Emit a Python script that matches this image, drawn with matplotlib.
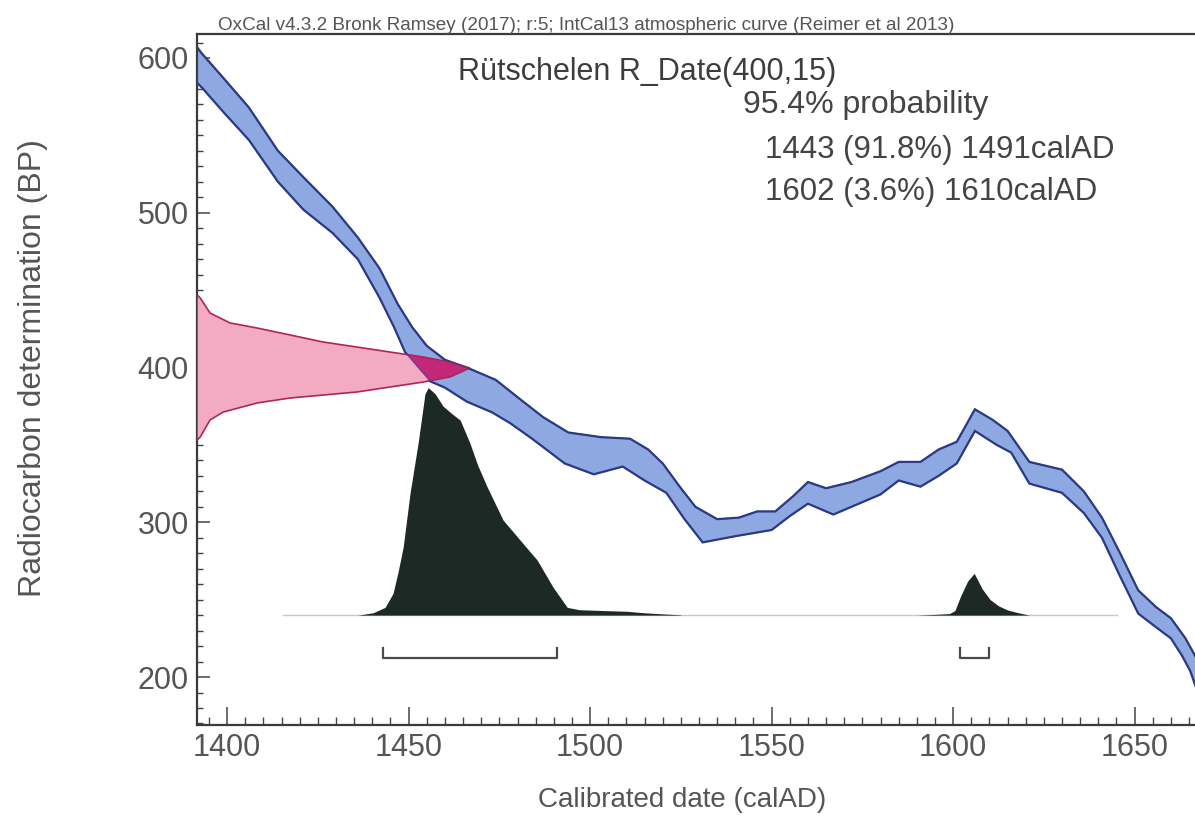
import numpy as np
import matplotlib
matplotlib.use('Agg')
import matplotlib.pyplot as plt
from matplotlib.patches import Polygon
from matplotlib.ticker import MultipleLocator

plt.rcParams['font.family'] = ['Liberation Sans', 'DejaVu Sans']

# Calibration curve (IntCal13), upper and lower edge of the band
cal_up_year = [1391.7, 1393, 1399, 1406, 1414, 1421, 1429, 1436, 1442, 1447, 1451, 1455,
               1460, 1467, 1474, 1481, 1487, 1494, 1503, 1511, 1516, 1520, 1525, 1529,
               1535, 1541, 1546, 1551, 1556, 1560, 1565, 1572, 1580, 1585, 1591, 1596,
               1601, 1606, 1611, 1615, 1621, 1630, 1636, 1641, 1646, 1651, 1656, 1660,
               1664, 1668]
cal_up_bp = [607, 603, 587, 568, 540, 523, 504, 484, 464, 441, 426, 414,
             405, 399, 392, 379, 368, 358, 355, 354, 347, 338, 322, 310,
             302, 303, 307, 307, 317, 326, 322, 326, 333, 339, 339, 347,
             352, 373, 366, 359, 339, 334, 320, 303, 280, 256, 245, 238,
             225, 208]
cal_lo_year = [1391.7, 1393, 1399, 1406, 1414, 1421, 1429, 1436, 1442, 1446, 1449, 1453,
               1456, 1460, 1466, 1473, 1478, 1484, 1493, 1501, 1509, 1515, 1521, 1526,
               1531, 1540, 1550, 1555, 1560, 1567, 1574, 1580, 1585, 1591, 1596, 1601,
               1606, 1612, 1616, 1621, 1630, 1636, 1641, 1646, 1651, 1656, 1660, 1663,
               1665.3, 1668]
cal_lo_bp = [584, 581, 565, 547, 520, 502, 487, 470, 445, 426, 410, 399,
             391, 387, 378, 371, 364, 354, 338, 331, 336, 327, 319, 302,
             287, 291, 295, 304, 312, 305, 312, 318, 327, 323, 330, 338,
             359, 350, 345, 325, 319, 306, 290, 265, 241, 232, 225, 214,
             204, 186]

# R_Date(400,15) shown on the y axis
pink_year = [1391.7, 1392.6, 1395.3, 1400.8, 1408.3, 1417.4, 1426.4, 1435.8, 1444.9,
             1454.0, 1461.4, 1466.9, 1461.4, 1454.0, 1444.9, 1435.8, 1426.4, 1417.4,
             1408.3, 1398.9, 1395.3, 1392.6, 1391.7]
pink_bp = [447, 444.9, 435.2, 428.8, 425.5, 421, 416.5, 413.2, 410,
           406.8, 403.6, 399.7, 393.9, 390.6, 387.4, 384.2, 382.2, 380.3,
           377.1, 371.2, 366.1, 355.1, 353]

# calibrated probability distribution (height above the baseline, in BP units)
dist_base = 240
dist_year_a = [1436, 1440.2, 1443.5, 1445.7, 1447.1, 1448.5, 1450.4, 1452.6, 1454.5, 1455.4,
               1457.3, 1459.5, 1462, 1464.2, 1466.9, 1469, 1471.6, 1476, 1480.7, 1485.4,
               1489.8, 1493.7, 1497, 1503, 1510, 1515, 1520, 1525]
dist_height_a = [0, 1.5, 5, 14, 28, 44, 79, 111, 143, 147,
                 143, 135, 130, 126, 111, 97, 83, 61.5, 48.5, 35.6,
                 18, 5, 3.5, 3, 2.5, 1.5, 0.8, 0.2]
dist_year_b = [1590, 1595, 1599, 1600.5, 1602, 1604, 1605.8, 1608, 1610.2, 1612.5, 1615, 1618, 1621]
dist_height_b = [0, 0.5, 1, 3, 12, 22, 27, 17, 10, 6, 3.3, 1.5, 0]
baseline_span = [1415.4, 1645.2]

# 95.4% ranges
ranges = [(1443, 1491), (1602, 1610)]
range_bp = 212

x_ticks = [1400, 1450, 1500, 1550, 1600, 1650]
y_ticks = [200, 300, 400, 500, 600]

W, H = 1195, 824
fig = plt.figure(figsize=(W / 100, H / 100), dpi=100)
ax = fig.add_axes([197 / W, 1 - 725 / H, (1198 - 197) / W, (725 - 34) / H])
ax.set_xlim(1391.7, 1391.7 + (1198 - 197) / 3.63)
ax.set_ylim(169, 615.5)

# distribution
ax.plot(baseline_span, [dist_base, dist_base], color='#c8c8c8', lw=1, zorder=1)
ax.fill_between(dist_year_a, dist_base, np.array(dist_height_a) + dist_base,
                color='#1d2925', lw=0, zorder=2)
ax.fill_between(dist_year_b, dist_base, np.array(dist_height_b) + dist_base,
                color='#1d2925', lw=0, zorder=2)

# calibration curve band
band_x = np.concatenate([cal_up_year, cal_lo_year[::-1]])
band_y = np.concatenate([cal_up_bp, cal_lo_bp[::-1]])
band = Polygon(np.column_stack([band_x, band_y]), closed=True,
               facecolor='#8ea8e2', edgecolor='#2c3a85', lw=1.6, zorder=3)
ax.add_patch(band)

# radiocarbon date on the y axis
pink_xy = np.column_stack([pink_year, pink_bp])
ax.add_patch(Polygon(pink_xy, closed=True, facecolor='#f3abc4',
                     edgecolor='none', zorder=4))
overlap = Polygon(pink_xy, closed=True, facecolor='#c2287a', edgecolor='none', zorder=5)
ax.add_patch(overlap)
overlap.set_clip_path(band)
ax.add_patch(Polygon(pink_xy, closed=True, facecolor='none',
                     edgecolor='#b0245a', lw=1.2, zorder=6))
ax.add_patch(Polygon(np.column_stack([band_x, band_y]), closed=True, facecolor='none',
                     edgecolor='#2c3a85', lw=1.0, alpha=0.6, zorder=6))

# range brackets
for a, b in ranges:
    ax.plot([a, a, b, b], [range_bp + 7, range_bp, range_bp, range_bp + 7],
            color='#4a4a4a', lw=1.6, zorder=3)

# axes styling
for side in ['left', 'bottom', 'top']:
    ax.spines[side].set_color('#3a3a3a')
    ax.spines[side].set_linewidth(1.6)
ax.spines['right'].set_visible(False)
ax.set_xticks(x_ticks)
ax.set_yticks(y_ticks)
ax.xaxis.set_minor_locator(MultipleLocator(5))
ax.yaxis.set_minor_locator(MultipleLocator(10))
ax.tick_params(axis='x', which='major', direction='in', length=13, width=1.1,
               color='#444444', labelsize=22, labelcolor='#555555', pad=6)
ax.tick_params(axis='x', which='minor', direction='in', length=5.5, width=1.0, color='#444444')
ax.tick_params(axis='y', which='major', direction='in', length=9, width=1.1,
               color='#444444', labelsize=22, labelcolor='#555555', pad=6)
ax.tick_params(axis='y', which='minor', direction='in', length=4, width=1.0, color='#444444')

ax.set_xlabel('Calibrated date (calAD)', fontsize=20, color='#555555', va='center')
ax.xaxis.set_label_coords((682 - 197) / 1001, (725 - 800) / 691)
ax.set_ylabel('Radiocarbon determination (BP)', fontsize=23, color='#555555', va='center')
ax.yaxis.set_label_coords((33 - 197) / 1001, (725 - 368) / 691)

# texts
fig.text(218 / W, 1 - 30 / H,
         'OxCal v4.3.2 Bronk Ramsey (2017); r:5; IntCal13 atmospheric curve (Reimer et al 2013)',
         fontsize=13.6, color='#555555', va='baseline')
fig.text(458 / W, 1 - 80 / H, 'Rütschelen R_Date(400,15)', fontsize=22,
         color='#3d3d3d', va='baseline')
fig.text(743 / W, 1 - 113 / H, '95.4% probability', fontsize=23,
         color='#444444', va='baseline')
fig.text(765 / W, 1 - 158 / H, '1443 (91.8%) 1491calAD', fontsize=22.5,
         color='#444444', va='baseline')
fig.text(765 / W, 1 - 200 / H, '1602 (3.6%) 1610calAD', fontsize=22.5,
         color='#444444', va='baseline')

fig.savefig('out.png', dpi=100)
